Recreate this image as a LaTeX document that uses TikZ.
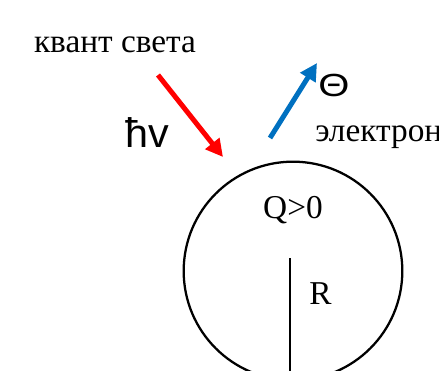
\documentclass[tikz,border=0pt]{standalone}
\usepackage{fontspec}
\setmainfont{Liberation Serif}
\newfontfamily\arialfont{Liberation Sans}
\usetikzlibrary{positioning, arrows.meta}
\definecolor{photon_red}{RGB}{255,0,0}
\definecolor{electron_blue}{RGB}{0,112,192}
\tikzset{
    serif_label/.style={inner sep=0pt, font=\fontsize{25}{30}\selectfont},
    sans_label/.style={inner sep=0pt, font=\arialfont\fontsize{31}{36}\selectfont},
    sign_label/.style={inner sep=0pt, xscale=1.25, font=\arialfont\fontsize{24}{28}\selectfont},
    ball/.style={circle, draw, line width=1.7pt, minimum size=164pt, inner sep=0pt},
    radius_line/.style={line width=1.7pt, black},
    photon_arrow/.style={-{Triangle[length=13pt, width=13pt]}, line width=3.75pt, photon_red},
    electron_arrow/.style={-{Triangle[length=13pt, width=13pt]}, line width=3.75pt, electron_blue}
}

\begin{document}
\begin{tikzpicture}[x=0.75pt, y=-0.75pt]
        \clip (0,0) rectangle (439,371);
        % sphere
        \node[ball] (sphere) at (293,271) {};
        \node[serif_label, anchor=base] (charge) at (293,218) {Q>0};
        \coordinate (rtop) at (290,258);
        \coordinate (rbot) at (290,385);
        \draw[radius_line] (rtop) -- (rbot);
        \node[serif_label, anchor=base west] (rlabel) at (309,304) {R};
        % incoming light
        \node[serif_label, anchor=base] (lighttext) at (115,52) {квант света};
        \node[sans_label, anchor=base] (hv) at (147,147) {ħv};
        \coordinate (p_start) at (158,75);
        \coordinate (p_end) at (223,157);
        \draw[photon_arrow] (p_start) -- (p_end);
        % outgoing electron
        \coordinate (e_start) at (270,138);
        \coordinate (e_end) at (317,63);
        \draw[electron_arrow] (e_start) -- (e_end);
        \node[sign_label] (minus) at (334,85) {Θ};
        \node[serif_label, anchor=base west] (etext) at (315,141) {электрон};
    \end{tikzpicture}
\end{document}
